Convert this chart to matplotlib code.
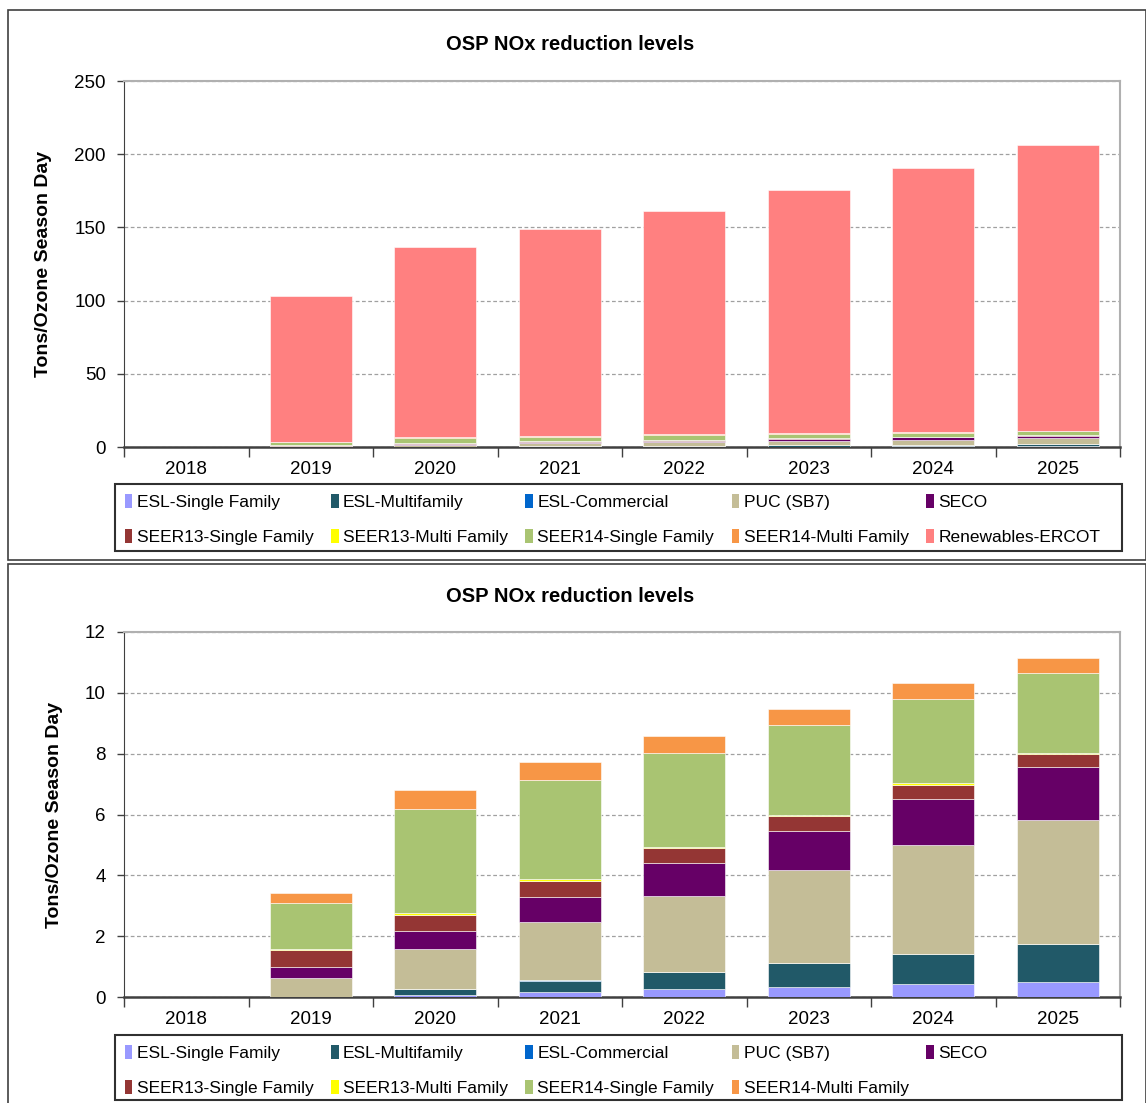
import numpy as np
import matplotlib
matplotlib.use('Agg')
import matplotlib.pyplot as plt
from matplotlib.patches import Rectangle, Patch

plt.rcParams['font.family'] = ['Liberation Sans', 'DejaVu Sans']

years = ['2018', '2019', '2020', '2021', '2022', '2023', '2024', '2025']

series_names = ['ESL-Single Family', 'ESL-Multifamily', 'ESL-Commercial', 'PUC (SB7)', 'SECO',
                'SEER13-Single Family', 'SEER13-Multi Family', 'SEER14-Single Family',
                'SEER14-Multi Family', 'Renewables-ERCOT']
series_colors = ['#9999FF', '#215968', '#0066CC', '#C4BD97', '#660066',
                 '#943634', '#FFFF00', '#A9C472', '#F79646', '#FF8080']

# tons / ozone season day
esl_single = [0, 0, 0.07, 0.17, 0.25, 0.33, 0.42, 0.49]
esl_multi = [0, 0, 0.20, 0.37, 0.57, 0.79, 1.00, 1.26]
esl_commercial = [0, 0, 0.005, 0.005, 0.005, 0.005, 0.005, 0.005]
puc_sb7 = [0, 0.61, 1.29, 1.91, 2.49, 3.04, 3.58, 4.07]
seco = [0, 0.36, 0.59, 0.84, 1.09, 1.30, 1.51, 1.73]
seer13_single = [0, 0.56, 0.55, 0.53, 0.50, 0.49, 0.46, 0.43]
seer13_multi = [0, 0.06, 0.06, 0.05, 0.04, 0.04, 0.05, 0.05]
seer14_single = [0, 1.51, 3.41, 3.25, 3.09, 2.94, 2.77, 2.63]
seer14_multi = [0, 0.31, 0.63, 0.59, 0.56, 0.53, 0.53, 0.48]
renewables = [0, 99.7, 129.8, 141.2, 152.6, 166.0, 180.3, 195.2]

all_series = [esl_single, esl_multi, esl_commercial, puc_sb7, seco,
              seer13_single, seer13_multi, seer14_single, seer14_multi, renewables]

W, H = 1146, 1103


def fx(px):
    return px / W


def fy(py):
    return 1 - py / H


def draw_panel(fig, ax_box, n_series, ymax, ystep, title_y, legend_box):
    l, t, r, b = ax_box
    ax = fig.add_axes([fx(l), fy(b), fx(r - l), (b - t) / H])
    x = np.arange(len(years))
    bottom = np.zeros(len(years))
    for name, col, vals in zip(series_names[:n_series], series_colors[:n_series], all_series[:n_series]):
        vals = np.array(vals, dtype=float)
        ax.bar(x, vals, width=0.66, bottom=bottom, color=col, edgecolor='#ffffff',
               linewidth=0.4, zorder=3)
        bottom += vals

    ax.set_xlim(-0.5, len(years) - 0.5)
    ax.set_ylim(0, ymax)
    ax.set_yticks(np.arange(0, ymax + ystep / 2, ystep))
    ax.set_xticks(x)
    ax.set_xticklabels(years)
    ax.set_xticks(np.arange(-0.5, len(years)), minor=True)
    ax.tick_params(axis='x', which='major', length=0, pad=10, labelsize=13.5)
    ax.tick_params(axis='x', which='minor', length=7, width=1, color='#404040', direction='out')
    ax.tick_params(axis='y', length=5, width=1, color='#404040', labelsize=13.5, pad=8)
    ax.yaxis.grid(True, linestyle=(0, (3, 2)), color='#a0a0a0', linewidth=0.9, zorder=0)
    ax.set_axisbelow(True)
    for s in ['top', 'right']:
        ax.spines[s].set_color('#b0b0b0')
        ax.spines[s].set_linewidth(1.5)
    ax.spines['left'].set_color('#404040')
    ax.spines['bottom'].set_color('#404040')
    ax.spines['bottom'].set_linewidth(1.8)
    ax.set_ylabel('Tons/Ozone Season Day', fontsize=14, fontweight='bold', labelpad=16)

    fig.text(fx(570), fy(title_y), 'OSP NOx reduction levels', ha='center', va='center',
             fontsize=14.5, fontweight='bold')

    # Excel-style legend: filled row by row, frame drawn separately
    handles = [Patch(facecolor=c, edgecolor='none') for c in series_colors[:n_series]]
    labels = series_names[:n_series]
    ncol = 5
    order = [r * ncol + c for c in range(ncol) for r in range(2) if r * ncol + c < n_series]
    lx0, ly0, lx1, ly1 = legend_box
    fig.patches.append(Rectangle((fx(lx0), fy(ly1)), fx(lx1 - lx0), (ly1 - ly0) / H,
                                 transform=fig.transFigure, fill=False,
                                 edgecolor='#303030', linewidth=1.5))
    fig.legend([handles[i] for i in order], [labels[i] for i in order], ncol=ncol,
               loc='upper left', bbox_to_anchor=(fx(lx0), fy(ly0)),
               fontsize=12.5, handlelength=0.45, handleheight=0.9,
               handletextpad=0.25, columnspacing=1.0, labelspacing=1.1,
               borderaxespad=0, borderpad=0.55, frameon=False)
    return ax


fig = plt.figure(figsize=(W / 100, H / 100), dpi=100)

# panel borders
fig.patches.append(Rectangle((fx(8), fy(560)), fx(1146 - 8), (560 - 10) / H, transform=fig.transFigure,
                             fill=False, edgecolor='#404040', linewidth=1.2))
fig.patches.append(Rectangle((fx(8), fy(1110)), fx(1146 - 8), (1110 - 564) / H, transform=fig.transFigure,
                             fill=False, edgecolor='#404040', linewidth=1.2))

draw_panel(fig, (124, 81, 1120, 447), 10, 250, 50, 44, (115, 484, 1122, 551))
draw_panel(fig, (124, 632, 1120, 997), 9, 12, 2, 596, (115, 1035, 1122, 1100))

fig.savefig('out.png', dpi=100)
